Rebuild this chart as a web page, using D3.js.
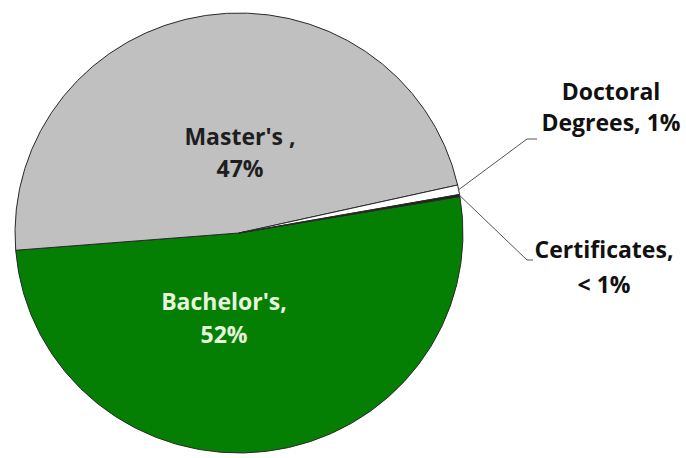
<!DOCTYPE html>
<html>
<head>
<meta charset="utf-8">
<script src="https://cdn.jsdelivr.net/npm/d3@7"></script>
<style>
  html, body { margin: 0; padding: 0; background: #fff; }
  svg { display: block; }
  text { font-family: "Open Sans", "DejaVu Sans", sans-serif; font-weight: 700; }
</style>
</head>
<body>
<svg id="chart" width="686" height="458"></svg>
<script>
// ---- data ----
const categories = ["Bachelor's", "Master's", "Doctoral Degrees", "Certificates"];
const values = [51.4, 47.75, 0.7, 0.15];
const labelLines = [
  ["Bachelor's,", "52%"],
  ["Master's ,", "47%"],
  ["Doctoral", "Degrees, 1%"],
  ["Certificates,", "< 1%"]
];
const colors = ["#047f04", "#c0c0c0", "#ffffff", "#142414"];
const textColors = ["#e6f4dc", "#1e1e1e", "#111111", "#111111"];

// ---- layout ----
const W = 686, H = 458;
const cx = 239, cy = 233;
const rx = 224, ry = 220;
const startDeg = 80.46;

const svg = d3.select("#chart");
svg.append("rect").attr("width", W).attr("height", H).attr("fill", "#fff");

const pie = d3.pie().sort(null).value(d => d)
  .startAngle(startDeg * Math.PI / 180)
  .endAngle(startDeg * Math.PI / 180 + 2 * Math.PI);
const arcs = pie(values);

const arc = d3.arc().innerRadius(0).outerRadius(rx);

const g = svg.append("g")
  .attr("transform", `translate(${cx},${cy}) scale(1,${ry / rx})`);

g.selectAll("path.slice")
  .data(arcs)
  .join("path")
  .attr("class", "slice")
  .attr("d", arc)
  .attr("fill", (d, i) => colors[i])
  .attr("stroke", "#2a2a2a")
  .attr("stroke-width", 1)
  .attr("vector-effect", "non-scaling-stroke")
  .attr("stroke-linejoin", "round");

// position on the (elliptical) edge for a given angle
function edgePoint(a, k) {
  return [cx + Math.sin(a) * rx * k, cy - Math.cos(a) * ry * k];
}

// inner labels (offsets from pie center)
const inner = [
  { i: 0, x: cx - 15, y: cy + 77, lh: 33 },
  { i: 1, x: cx + 1, y: cy - 88, lh: 32 }
];
inner.forEach(o => {
  const t = svg.append("text")
    .attr("text-anchor", "middle")
    .attr("fill", textColors[o.i])
    .attr("font-size", 23);
  labelLines[o.i].forEach((s, j) => {
    t.append("tspan").attr("x", o.x).attr("y", o.y + j * o.lh).text(s);
  });
});

// outer labels with leader lines
const outer = [
  { i: 2, knee: [527, 139], end: [537, 139], tx: 611, ty: 100, lh: 31 },
  { i: 3, knee: [527, 260], end: [533, 260], tx: 604, ty: 258, lh: 35 }
];
outer.forEach(o => {
  const a = (arcs[o.i].startAngle + arcs[o.i].endAngle) / 2;
  const p = edgePoint(a, 1.0);
  svg.append("path")
    .attr("d", d3.line()([p, o.knee, o.end]))
    .attr("fill", "none")
    .attr("stroke", "#555")
    .attr("stroke-width", 1);
  const t = svg.append("text")
    .attr("text-anchor", "middle")
    .attr("fill", textColors[o.i])
    .attr("font-size", 23);
  labelLines[o.i].forEach((s, j) => {
    t.append("tspan").attr("x", o.tx).attr("y", o.ty + j * o.lh).text(s);
  });
});
</script>
</body>
</html>
